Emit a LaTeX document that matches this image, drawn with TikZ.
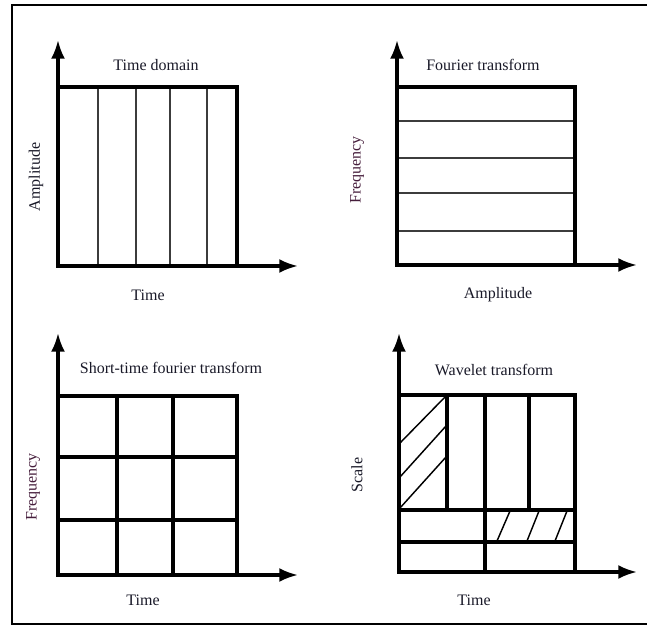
\documentclass[tikz,border=0pt]{standalone}
\usepackage{fontspec}
\setmainfont{Liberation Serif}
\usetikzlibrary{arrows.meta}
\definecolor{labelink}{RGB}{25,25,40}
\definecolor{freqink}{RGB}{70,30,60}
\tikzset{
  axis/.style={line width=2.4pt, -{Latex[length=14pt,width=10.5pt]}},
  outline/.style={line width=2.4pt},
  thinrule/.style={line width=1.2pt, draw={rgb,255:red,60;green,60;blue,60}},
  thickrule/.style={line width=2.3pt},
  hatch/.style={line width=1.1pt},
  lbl/.style={font=\fontsize{12}{14}\selectfont, text=labelink, inner sep=0pt},
  vlbl/.style={lbl, rotate=90},
}
\begin{document}
\begin{tikzpicture}[x=0.75pt, y=-0.75pt]
\useasboundingbox (0,0) rectangle (647,627);

% outer frame (open on the right)
\draw[line width=1.4pt] (680,5) -- (12,5) -- (12,624) -- (680,624);

% ---------- Time domain ----------
\coordinate (o1) at (58,266);
\coordinate (y1) at (58,40);
\coordinate (x1) at (298,266);
\foreach \x in {98,136,170,207} \draw[thinrule] (\x,87) -- (\x,266);
\draw[outline] (58,87) rectangle (237,266);
\draw[axis] (o1) -- (y1);
\draw[axis] (o1) -- (x1);
\node[lbl] (t1) at (156,65) {Time domain};
\node[lbl] (h1) at (148,295) {Time};
\node[vlbl] (v1) at (36,177) {Amplitude};

% ---------- Fourier transform ----------
\coordinate (o2) at (397,265);
\coordinate (y2) at (397,40);
\coordinate (x2) at (637,265);
\foreach \y in {121,158,193,231} \draw[thinrule] (397,\y) -- (575,\y);
\draw[outline] (397,87) rectangle (575,265);
\draw[axis] (o2) -- (y2);
\draw[axis] (o2) -- (x2);
\node[lbl] (t2) at (483,65) {Fourier transform};
\node[lbl] (h2) at (498,295) {Amplitude};
\node[vlbl, text=freqink] (v2) at (357,170) {Frequency};

% ---------- Short-time fourier transform ----------
\coordinate (o3) at (58,575);
\coordinate (y3) at (58,333);
\coordinate (x3) at (298,575);
\foreach \x in {117,173} \draw[thickrule] (\x,396) -- (\x,575);
\foreach \y in {457,520} \draw[thickrule] (58,\y) -- (237,\y);
\draw[outline] (58,396) rectangle (237,575);
\draw[axis] (o3) -- (y3);
\draw[axis] (o3) -- (x3);
\node[lbl] (t3) at (171,368) {Short-time fourier transform};
\node[lbl] (h3) at (143,600) {Time};
\node[vlbl, text=freqink] (v3) at (33,487) {Frequency};

% ---------- Wavelet transform ----------
\coordinate (o4) at (399,572);
\coordinate (y4) at (399,333);
\coordinate (x4) at (637,572);
% hatching in the coarse-scale cell and in one fine-scale cell
\draw[hatch] (400,443) -- (446,396);
\draw[hatch] (400,477) -- (446,426);
\draw[hatch] (400,508) -- (446,457);
\draw[hatch] (497,541) -- (510,511);
\draw[hatch] (527,541) -- (539,511);
\draw[hatch] (555,541) -- (567,511);
% tiling
\foreach \x in {447,529} \draw[thickrule] (\x,395) -- (\x,510);
\draw[thickrule] (485,395) -- (485,572);
\foreach \y in {510,542} \draw[thickrule] (399,\y) -- (575,\y);
\draw[outline] (399,395) rectangle (575,572);
\draw[axis] (o4) -- (y4);
\draw[axis] (o4) -- (x4);
\node[lbl] (t4) at (494,370) {Wavelet transform};
\node[lbl] (h4) at (474,600) {Time};
\node[vlbl] (v4) at (357,475) {Scale};
\end{tikzpicture}
\end{document}
